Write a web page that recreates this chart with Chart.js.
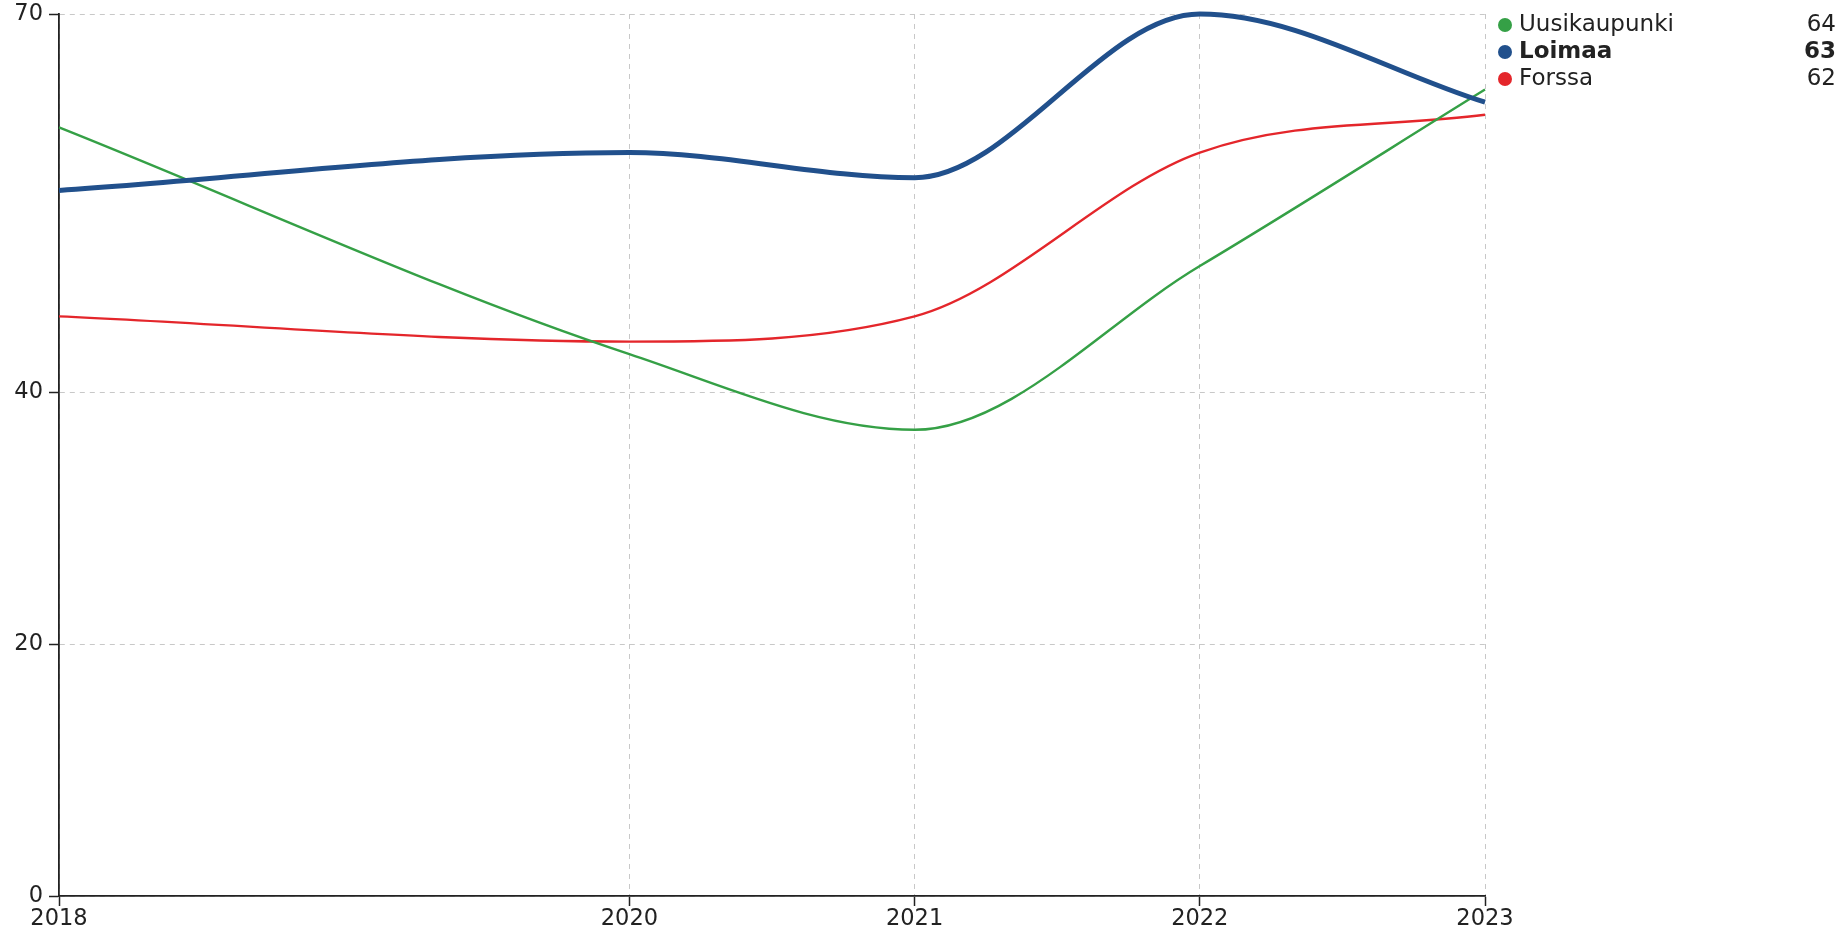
<!DOCTYPE html>
<html>
<head>
<meta charset="utf-8">
<script src="https://cdn.jsdelivr.net/npm/chart.js@4/dist/chart.umd.min.js"></script>
<style>
    html, body { margin: 0; padding: 0; background: #fff; }
    #wrap { width: 1847px; height: 937px; }
</style>
</head>
<body>
<div id="wrap"><canvas id="chart" width="1847" height="937"></canvas></div>
<script>
const years = [2018, 2020, 2021, 2022, 2023];
const uusikaupunki = [61, 43, 37, 50, 64];
const loimaa = [56, 59, 57, 70, 63];
const forssa = [46, 44, 46, 59, 62];
const yTicks = [0, 20, 40, 70];
const highlighted = "Loimaa";

const series = [
    { label: "Uusikaupunki", values: uusikaupunki, color: "#35a046" },
    { label: "Loimaa", values: loimaa, color: "#21508c" },
    { label: "Forssa", values: forssa, color: "#e4262b" },
];

const FONT = "'DejaVu Sans', sans-serif";

// legenda oikealla: pallo, nimi, viimeisin arvo
const sideLegend = {
    id: "sideLegend",
    afterDraw(chart) {
        const ctx = chart.ctx;
        const rows = chart.data.datasets
            .map((ds) => ({ ds, last: ds.data[ds.data.length - 1].y }))
            .sort((a, b) => b.last - a.last);
        const x0 = chart.chartArea.right + 20;
        ctx.save();
        ctx.textBaseline = "middle";
        rows.forEach((r, i) => {
            const y = 25 + i * 27;
            const bold = r.ds.label === highlighted;
            ctx.fillStyle = r.ds.borderColor;
            ctx.beginPath();
            ctx.arc(x0, y, 7, 0, Math.PI * 2);
            ctx.fill();
            ctx.fillStyle = "#222";
            ctx.font = `${bold ? "bold " : ""}23px ${FONT}`;
            ctx.textAlign = "left";
            ctx.fillText(r.ds.label, x0 + 14, y);
            ctx.textAlign = "right";
            ctx.fillText(String(r.last), 1836, y);
        });
        ctx.restore();
    },
};

const gridOpts = { color: "#c8c8c8", lineWidth: 1, tickLength: 10, tickColor: "#222", tickWidth: 1.5 };
const borderOpts = { color: "#222", width: 1.8, dash: [5, 5] };

new Chart(document.getElementById("chart").getContext("2d"), {
    type: "line",
    data: {
        datasets: series.map((s) => ({
            label: s.label,
            data: years.map((yr, i) => ({ x: yr, y: s.values[i] })),
            borderColor: s.color,
            backgroundColor: s.color,
            borderWidth: s.label === highlighted ? 5 : 2.4,
            pointRadius: 0,
            pointHoverRadius: 0,
            cubicInterpolationMode: "monotone",
            clip: false,
            order: s.label === highlighted ? 0 : 1,
        })),
    },
    options: {
        responsive: false,
        animation: false,
        events: [],
        layout: { padding: { left: 0, top: 14, right: 362, bottom: 0 } },
        plugins: { legend: { display: false }, tooltip: { enabled: false } },
        scales: {
            x: {
                type: "linear",
                min: 2018,
                max: 2023,
                afterBuildTicks: (axis) => { axis.ticks = years.map((v) => ({ value: v })); },
                afterFit: (axis) => { axis.height = 41; },
                ticks: {
                    autoSkip: false,
                    maxRotation: 0,
                    padding: 0,
                    color: "#222",
                    font: { family: FONT, size: 22.5 },
                    callback: (v) => String(v),
                },
                grid: gridOpts,
                border: borderOpts,
            },
            y: {
                min: 0,
                max: 70,
                afterBuildTicks: (axis) => { axis.ticks = yTicks.map((v) => ({ value: v })); },
                afterFit: (axis) => { axis.width = 59; axis.paddingTop = 0; },
                ticks: {
                    padding: 6,
                    color: "#222",
                    font: { family: FONT, size: 22.5 },
                    callback: (v) => String(v),
                },
                grid: gridOpts,
                border: borderOpts,
            },
        },
    },
    plugins: [sideLegend],
});
</script>
</body>
</html>
